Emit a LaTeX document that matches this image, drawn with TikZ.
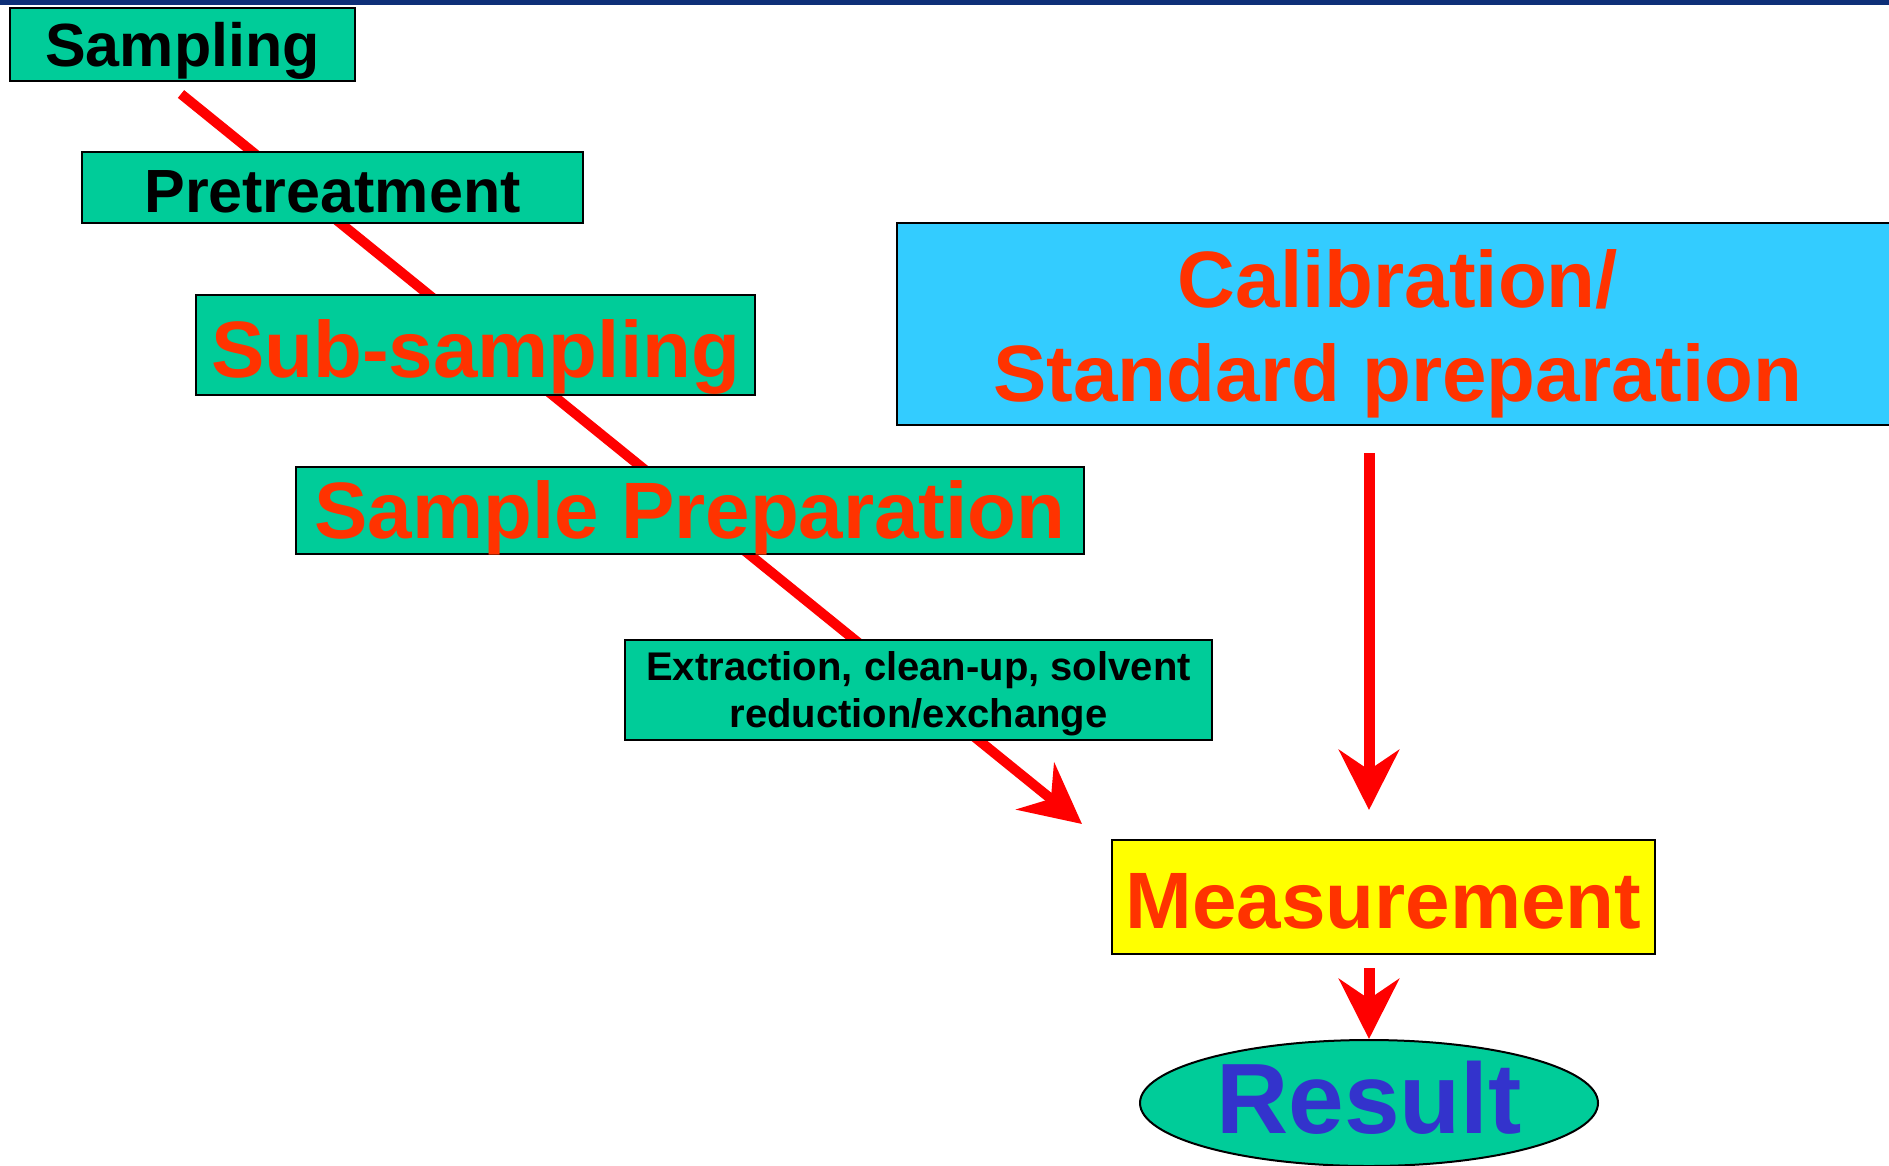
\documentclass[tikz,border=0pt]{standalone}
\usepackage{fontspec}
\setmainfont{Liberation Sans}
\usetikzlibrary{arrows.meta,shapes.geometric}
\definecolor{topbar}{HTML}{0E2F78}
\definecolor{boxgreen}{HTML}{00CC99}
\definecolor{calblue}{HTML}{33CCFF}
\definecolor{measyellow}{HTML}{FFFF00}
\definecolor{txtred}{HTML}{FF3300}
\definecolor{arrred}{HTML}{FF0000}
\definecolor{resblue}{HTML}{3333CC}
\tikzset{
  gbox/.style={draw=black, line width=2pt, fill=boxgreen, rectangle, inner sep=0pt, text depth=0pt, font=\bfseries},
  bigtxt/.style={font=\fontsize{80}{94}\selectfont\bfseries, text=txtred},
  smalltxt/.style={font=\fontsize{61}{70}\selectfont\bfseries, text=black},
  flowarrow/.style={draw=arrred, line width=10pt, -{Stealth[length=60pt, width=60pt, inset=20pt]}},
}
\begin{document}
\begin{tikzpicture}[x=1pt, y=-1pt]
\useasboundingbox (0,0) rectangle (1889,1165);
\fill[white] (0,0) rectangle (1889,1165);
\fill[topbar] (0,0) rectangle (1889,5);

% diagonal flow arrow (behind the boxes)
\coordinate (dstart) at (181,94);
\coordinate (dend) at (1082,824);
\draw[flowarrow] (dstart) -- (dend);

\node[gbox, smalltxt, minimum width=345pt, minimum height=73pt, text height=43pt] (sampling) at (182.5,44.5) {Sampling};
\node[gbox, smalltxt, minimum width=501pt, minimum height=71pt, text height=50pt] (pretreat) at (332.5,187.5) {Pretreatment};
\node[gbox, bigtxt, minimum width=559pt, minimum height=100pt, text height=64pt] (subsamp) at (475.5,345) {Sub-sampling};
\node[gbox, bigtxt, minimum width=788pt, minimum height=87pt, text height=55pt] (sampprep) at (690,510.5) {Sample Preparation};
\node[gbox, font=\fontsize{40}{47}\selectfont\bfseries, minimum width=587pt, minimum height=100pt, text depth=] (extract) at (918.5,690) {\parbox{560pt}{\centering\vspace*{8pt}Extraction, clean-up, solvent\\reduction/exchange}};

% calibration box (runs past the right edge)
\node[draw=black, line width=2pt, fill=calblue, rectangle, inner sep=0pt, minimum width=1020pt, minimum height=202pt] (calib) at (1407,324) {};
\node[bigtxt, anchor=base, inner sep=0pt] (calib1) at (1398,307) {Calibration/};
\node[bigtxt, anchor=base, inner sep=0pt] (calib2) at (1398,401) {Standard preparation};

\node[draw=black, line width=2pt, fill=measyellow, rectangle, inner sep=0pt, text depth=0pt, bigtxt, minimum width=543pt, minimum height=114pt, text height=62pt] (measure) at (1383.5,897) {Measurement};

\node[draw=black, line width=2pt, fill=boxgreen, ellipse, inner sep=0pt, minimum width=458pt, minimum height=126pt, text depth=0pt, text height=60pt, font=\fontsize{100}{110}\selectfont\bfseries, text=resblue] (result) at (1369,1103) {Result};

\coordinate (vstart) at (1369,453);
\coordinate (vend) at (1369,810);
\draw[flowarrow, line width=11pt] (vstart) -- (vend);
\coordinate (rstart) at (1369,968);
\draw[flowarrow, line width=11pt] (rstart) -- (result.north);
\end{tikzpicture}
\end{document}
